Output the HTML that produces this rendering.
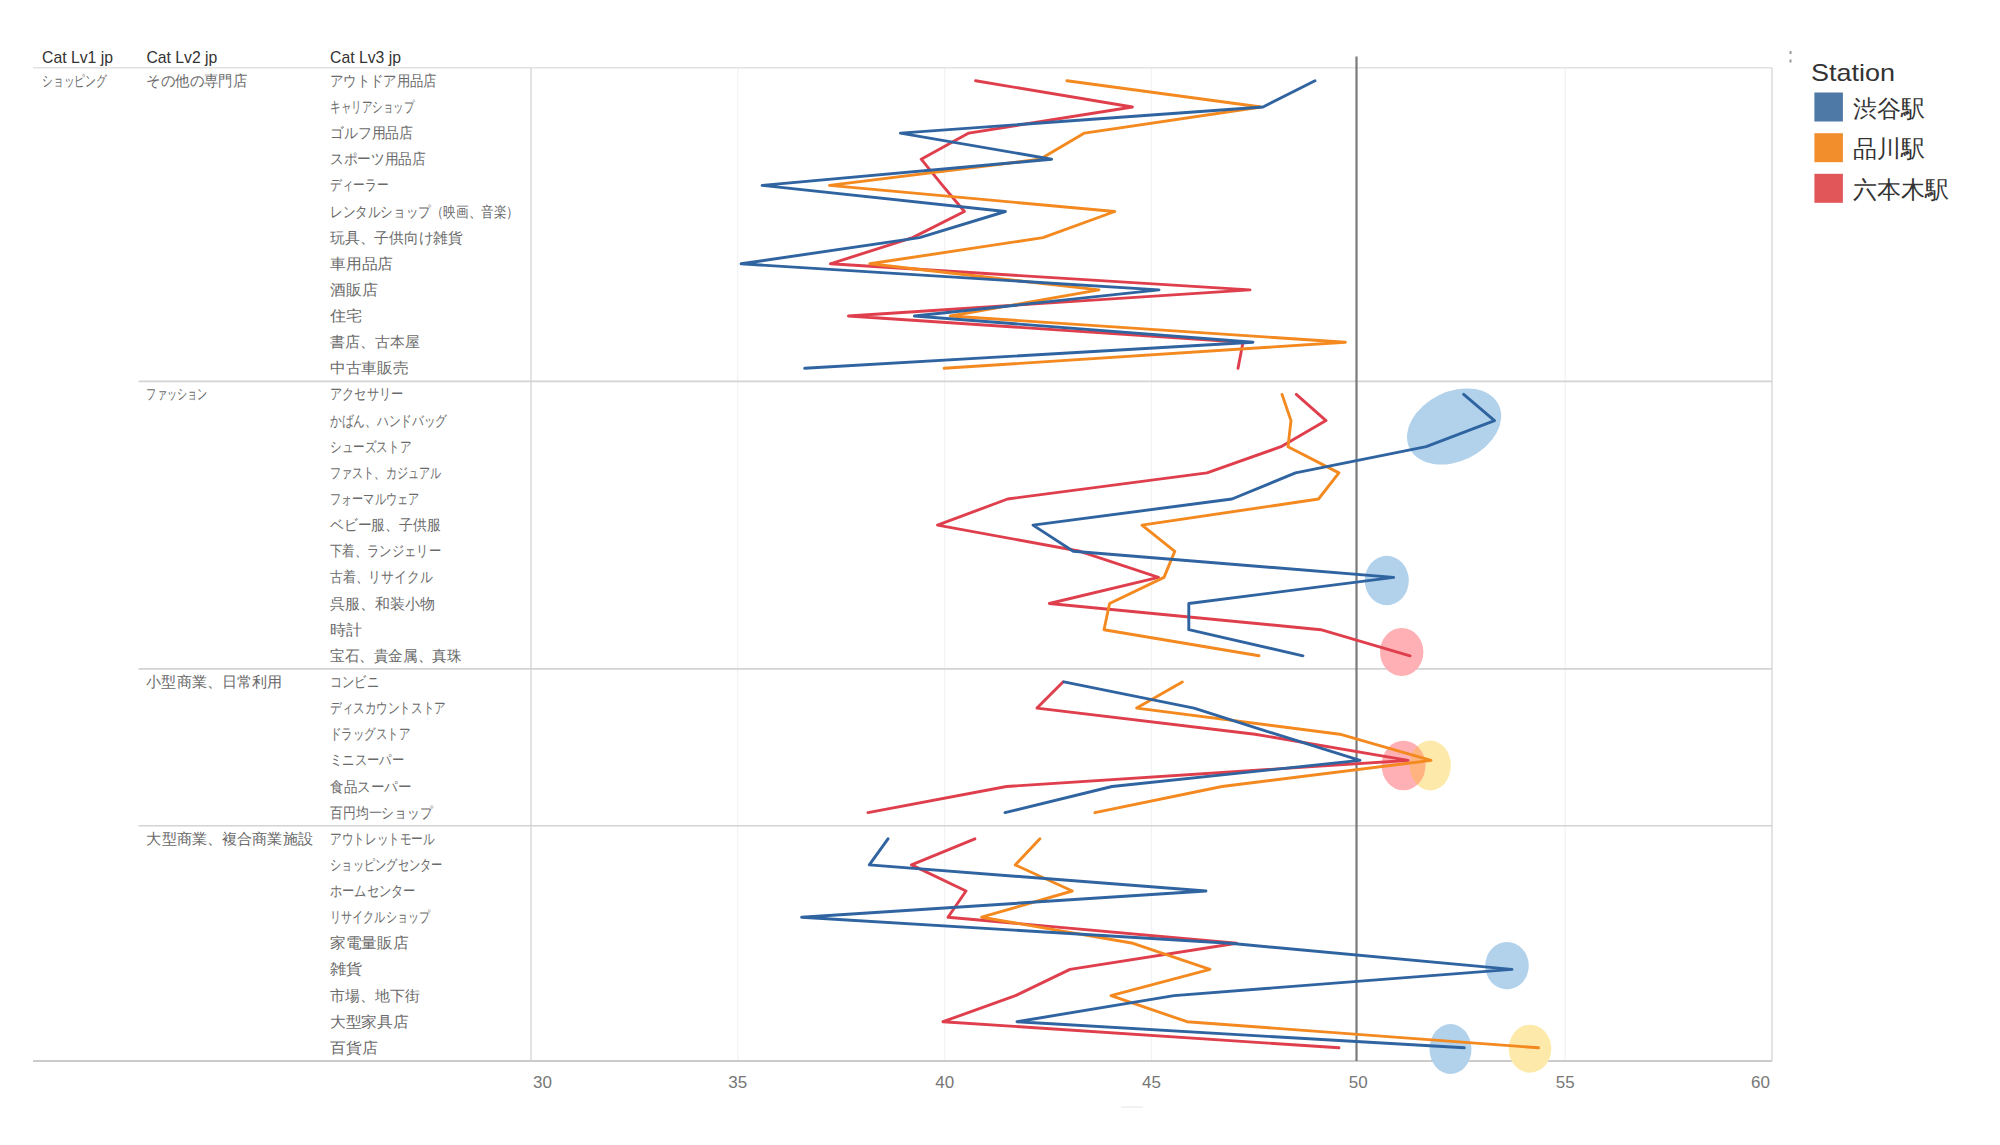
<!DOCTYPE html>
<html><head><meta charset="utf-8"><style>
html,body{margin:0;padding:0;background:#fff;width:2000px;height:1145px;overflow:hidden}
svg{position:absolute;left:0;top:0;font-family:"Liberation Sans",sans-serif}
.hd{font-size:17px;fill:#333}
.lb{font-size:15px;fill:#6a6a6a}
.ax{font-size:17px;fill:#777}
.lt{font-size:24px;fill:#333}
.ll{font-size:24px;fill:#333}
</style></head><body>
<svg width="2000" height="1145" viewBox="0 0 2000 1145">
<line x1="737.8" y1="67.5" x2="737.8" y2="1061" stroke="#f2f2f2" stroke-width="1.2"/>
<line x1="944.7" y1="67.5" x2="944.7" y2="1061" stroke="#f2f2f2" stroke-width="1.2"/>
<line x1="1151.5" y1="67.5" x2="1151.5" y2="1061" stroke="#f2f2f2" stroke-width="1.2"/>
<line x1="1565.2" y1="67.5" x2="1565.2" y2="1061" stroke="#f2f2f2" stroke-width="1.2"/>
<line x1="531" y1="67.75" x2="531" y2="1061" stroke="#dcdcdc" stroke-width="1.6"/>
<line x1="1772" y1="67.75" x2="1772" y2="1061" stroke="#dcdcdc" stroke-width="1.6"/>
<line x1="33" y1="67.75" x2="1772" y2="67.75" stroke="#e2e2e2" stroke-width="1.6"/>
<line x1="138.5" y1="381.4" x2="1772" y2="381.4" stroke="#d3d3d3" stroke-width="1.6"/>
<line x1="138.5" y1="668.9" x2="1772" y2="668.9" stroke="#d3d3d3" stroke-width="1.6"/>
<line x1="138.5" y1="825.7" x2="1772" y2="825.7" stroke="#d3d3d3" stroke-width="1.6"/>
<line x1="33" y1="1060.9" x2="1772" y2="1060.9" stroke="#cbcbcb" stroke-width="2"/>
<ellipse cx="1454.1" cy="426.5" rx="49.6" ry="34.8" transform="rotate(-26 1454.1 426.5)" fill="#b2d2ec"/>
<ellipse cx="1386.8" cy="580.5" rx="22" ry="24.7" fill="#b2d2ec"/>
<ellipse cx="1507" cy="965.7" rx="21.8" ry="23.7" fill="#b2d2ec"/>
<ellipse cx="1450.5" cy="1049" rx="21" ry="25" fill="#b2d2ec"/>
<ellipse cx="1430.3" cy="765.5" rx="20.6" ry="25" fill="#fdeaab"/>
<ellipse cx="1530" cy="1048.7" rx="21.3" ry="24" fill="#fdeaab"/>
<ellipse cx="1401.7" cy="652" rx="21.7" ry="24" fill="#feb0b4"/>
<defs><clipPath id="pk"><ellipse cx="1403.5" cy="765.5" rx="21.9" ry="24.8"/></clipPath></defs>
<ellipse cx="1403.5" cy="765.5" rx="21.9" ry="24.8" fill="#feb0b4"/>
<ellipse cx="1430.3" cy="765.5" rx="20.6" ry="25" fill="#ffb480" clip-path="url(#pk)"/>
<line x1="1356.5" y1="56.5" x2="1356.5" y2="1061" stroke="#7a7a7a" stroke-width="2.2"/>
<polyline points="975.6,80.8 1132.4,107.0 968.8,133.1 921.2,159.2 942.5,185.4 964.4,211.5 912.6,237.6 830.4,263.8 1250.0,289.9 848.4,316.0 1243.0,342.2 1238.0,368.3" fill="none" stroke="#df3f4c" stroke-width="2.9" stroke-linejoin="round" stroke-linecap="round"/>
<polyline points="1296.3,394.4 1326.0,420.6 1281.0,446.7 1207.0,472.9 1007.6,499.0 937.5,525.1 1080.0,551.3 1158.5,577.4 1049.3,603.5 1320.8,629.7 1410.0,655.8" fill="none" stroke="#df3f4c" stroke-width="2.9" stroke-linejoin="round" stroke-linecap="round"/>
<polyline points="1063.0,681.9 1037.0,708.1 1255.0,734.2 1408.0,760.4 1006.5,786.5 868.0,812.6" fill="none" stroke="#df3f4c" stroke-width="2.9" stroke-linejoin="round" stroke-linecap="round"/>
<polyline points="974.9,838.8 911.5,864.9 966.0,891.0 948.0,917.2 1236.6,943.3 1070.0,969.4 1015.5,995.6 943.0,1021.7 1339.0,1047.8" fill="none" stroke="#df3f4c" stroke-width="2.9" stroke-linejoin="round" stroke-linecap="round"/>
<polyline points="1067.0,80.8 1261.0,107.0 1084.5,133.1 1040.0,159.2 829.5,185.4 1114.8,211.5 1043.0,237.6 869.8,263.8 1099.0,289.9 950.3,316.0 1345.4,342.2 944.1,368.3" fill="none" stroke="#f3891f" stroke-width="2.9" stroke-linejoin="round" stroke-linecap="round"/>
<polyline points="1282.0,394.4 1291.0,420.6 1288.0,446.7 1338.9,472.9 1318.5,499.0 1142.0,525.1 1174.8,551.3 1164.0,577.4 1109.6,603.5 1104.0,629.7 1259.0,655.8" fill="none" stroke="#f3891f" stroke-width="2.9" stroke-linejoin="round" stroke-linecap="round"/>
<polyline points="1182.3,681.9 1136.7,708.1 1339.8,734.2 1431.0,760.4 1222.0,786.5 1094.9,812.6" fill="none" stroke="#f3891f" stroke-width="2.9" stroke-linejoin="round" stroke-linecap="round"/>
<polyline points="1039.9,838.8 1015.2,864.9 1072.3,891.0 981.6,917.2 1133.0,943.3 1210.0,969.4 1111.0,995.6 1187.0,1021.7 1538.6,1047.8" fill="none" stroke="#f3891f" stroke-width="2.9" stroke-linejoin="round" stroke-linecap="round"/>
<polyline points="1315.0,80.8 1263.0,107.0 900.4,133.1 1051.6,159.2 762.1,185.4 1005.4,211.5 919.6,237.6 741.1,263.8 1159.0,289.9 914.4,316.0 1253.0,342.2 804.7,368.3" fill="none" stroke="#2f64a1" stroke-width="2.9" stroke-linejoin="round" stroke-linecap="round"/>
<polyline points="1463.7,394.4 1494.5,420.6 1426.2,446.7 1295.5,472.9 1232.0,499.0 1033.0,525.1 1073.2,551.3 1393.7,577.4 1188.8,603.5 1188.8,629.7 1303.0,655.8" fill="none" stroke="#2f64a1" stroke-width="2.9" stroke-linejoin="round" stroke-linecap="round"/>
<polyline points="1063.9,681.9 1194.0,708.1 1276.0,734.2 1360.0,760.4 1112.0,786.5 1005.0,812.6" fill="none" stroke="#2f64a1" stroke-width="2.9" stroke-linejoin="round" stroke-linecap="round"/>
<polyline points="888.0,838.8 869.3,864.9 1206.0,891.0 801.6,917.2 1230.0,943.3 1512.0,969.4 1174.0,995.6 1017.0,1021.7 1464.3,1047.8" fill="none" stroke="#2f64a1" stroke-width="2.9" stroke-linejoin="round" stroke-linecap="round"/>
<text x="42" y="62.6" class="hd" textLength="71" lengthAdjust="spacingAndGlyphs">Cat Lv1 jp</text>
<text x="146.4" y="62.6" class="hd" textLength="71" lengthAdjust="spacingAndGlyphs">Cat Lv2 jp</text>
<text x="330" y="62.6" class="hd" textLength="71" lengthAdjust="spacingAndGlyphs">Cat Lv3 jp</text>
<text x="42" y="85.8" class="lb" textLength="64.7" lengthAdjust="spacingAndGlyphs">ショッピング</text>
<text x="146.4" y="85.8" class="lb" textLength="100.6" lengthAdjust="spacingAndGlyphs">その他の専門店</text>
<text x="146.4" y="399.4" class="lb" textLength="60.9" lengthAdjust="spacingAndGlyphs">ファッション</text>
<text x="146.4" y="686.9" class="lb" textLength="135.7" lengthAdjust="spacingAndGlyphs">小型商業、日常利用</text>
<text x="146.4" y="843.8" class="lb" textLength="166.5" lengthAdjust="spacingAndGlyphs">大型商業、複合商業施設</text>
<text x="330" y="85.8" class="lb" textLength="106.7" lengthAdjust="spacingAndGlyphs">アウトドア用品店</text>
<text x="330" y="112.0" class="lb" textLength="84.5" lengthAdjust="spacingAndGlyphs">キャリアショップ</text>
<text x="330" y="138.1" class="lb" textLength="83.1" lengthAdjust="spacingAndGlyphs">ゴルフ用品店</text>
<text x="330" y="164.2" class="lb" textLength="95.7" lengthAdjust="spacingAndGlyphs">スポーツ用品店</text>
<text x="330" y="190.4" class="lb" textLength="58.3" lengthAdjust="spacingAndGlyphs">ディーラー</text>
<text x="330" y="216.5" class="lb" textLength="188.9" lengthAdjust="spacingAndGlyphs">レンタルショップ（映画、音楽）</text>
<text x="330" y="242.6" class="lb" textLength="132.8" lengthAdjust="spacingAndGlyphs">玩具、子供向け雑貨</text>
<text x="330" y="268.8" class="lb" textLength="63.1" lengthAdjust="spacingAndGlyphs">車用品店</text>
<text x="330" y="294.9" class="lb" textLength="47.7" lengthAdjust="spacingAndGlyphs">酒販店</text>
<text x="330" y="321.0" class="lb" textLength="32.3" lengthAdjust="spacingAndGlyphs">住宅</text>
<text x="330" y="347.2" class="lb" textLength="89.5" lengthAdjust="spacingAndGlyphs">書店、古本屋</text>
<text x="330" y="373.3" class="lb" textLength="78.5" lengthAdjust="spacingAndGlyphs">中古車販売</text>
<text x="330" y="399.4" class="lb" textLength="73.1" lengthAdjust="spacingAndGlyphs">アクセサリー</text>
<text x="330" y="425.6" class="lb" textLength="117.0" lengthAdjust="spacingAndGlyphs">かばん、ハンドバッグ</text>
<text x="330" y="451.7" class="lb" textLength="81.1" lengthAdjust="spacingAndGlyphs">シューズストア</text>
<text x="330" y="477.9" class="lb" textLength="111.1" lengthAdjust="spacingAndGlyphs">ファスト、カジュアル</text>
<text x="330" y="504.0" class="lb" textLength="89.1" lengthAdjust="spacingAndGlyphs">フォーマルウェア</text>
<text x="330" y="530.1" class="lb" textLength="110.3" lengthAdjust="spacingAndGlyphs">ベビー服、子供服</text>
<text x="330" y="556.3" class="lb" textLength="111.1" lengthAdjust="spacingAndGlyphs">下着、ランジェリー</text>
<text x="330" y="582.4" class="lb" textLength="102.3" lengthAdjust="spacingAndGlyphs">古着、リサイクル</text>
<text x="330" y="608.5" class="lb" textLength="104.9" lengthAdjust="spacingAndGlyphs">呉服、和装小物</text>
<text x="330" y="634.7" class="lb" textLength="32.3" lengthAdjust="spacingAndGlyphs">時計</text>
<text x="330" y="660.8" class="lb" textLength="131.3" lengthAdjust="spacingAndGlyphs">宝石、貴金属、真珠</text>
<text x="330" y="686.9" class="lb" textLength="48.7" lengthAdjust="spacingAndGlyphs">コンビニ</text>
<text x="330" y="713.1" class="lb" textLength="115.7" lengthAdjust="spacingAndGlyphs">ディスカウントストア</text>
<text x="330" y="739.2" class="lb" textLength="80.3" lengthAdjust="spacingAndGlyphs">ドラッグストア</text>
<text x="330" y="765.4" class="lb" textLength="73.9" lengthAdjust="spacingAndGlyphs">ミニスーパー</text>
<text x="330" y="791.5" class="lb" textLength="81.1" lengthAdjust="spacingAndGlyphs">食品スーパー</text>
<text x="330" y="817.6" class="lb" textLength="102.7" lengthAdjust="spacingAndGlyphs">百円均一ショップ</text>
<text x="330" y="843.8" class="lb" textLength="104.7" lengthAdjust="spacingAndGlyphs">アウトレットモール</text>
<text x="330" y="869.9" class="lb" textLength="112.7" lengthAdjust="spacingAndGlyphs">ショッピングセンター</text>
<text x="330" y="896.0" class="lb" textLength="85.7" lengthAdjust="spacingAndGlyphs">ホームセンター</text>
<text x="330" y="922.2" class="lb" textLength="100.1" lengthAdjust="spacingAndGlyphs">リサイクルショップ</text>
<text x="330" y="948.3" class="lb" textLength="78.5" lengthAdjust="spacingAndGlyphs">家電量販店</text>
<text x="330" y="974.4" class="lb" textLength="32.3" lengthAdjust="spacingAndGlyphs">雑貨</text>
<text x="330" y="1000.6" class="lb" textLength="89.5" lengthAdjust="spacingAndGlyphs">市場、地下街</text>
<text x="330" y="1026.7" class="lb" textLength="78.5" lengthAdjust="spacingAndGlyphs">大型家具店</text>
<text x="330" y="1052.8" class="lb" textLength="47.7" lengthAdjust="spacingAndGlyphs">百貨店</text>
<text x="533.0" y="1087.7" class="ax" text-anchor="start">30</text>
<text x="737.8" y="1087.7" class="ax" text-anchor="middle">35</text>
<text x="944.7" y="1087.7" class="ax" text-anchor="middle">40</text>
<text x="1151.5" y="1087.7" class="ax" text-anchor="middle">45</text>
<text x="1358.3" y="1087.7" class="ax" text-anchor="middle">50</text>
<text x="1565.2" y="1087.7" class="ax" text-anchor="middle">55</text>
<text x="1770.0" y="1087.7" class="ax" text-anchor="end">60</text>
<text x="1811" y="81" class="lt" textLength="84" lengthAdjust="spacingAndGlyphs">Station</text>
<rect x="1814.4" y="92.5" width="28.5" height="29" fill="#4e79a7"/>
<text x="1853" y="116.5" class="ll">渋谷駅</text>
<rect x="1814.4" y="133.2" width="28.5" height="29" fill="#f28e2b"/>
<text x="1853" y="157.2" class="ll">品川駅</text>
<rect x="1814.4" y="173.8" width="28.5" height="29" fill="#e15759"/>
<text x="1853" y="197.8" class="ll">六本木駅</text>
<rect x="1789.5" y="51" width="2" height="3" fill="#999"/><rect x="1789.5" y="59.5" width="2" height="3" fill="#999"/>
<line x1="1121" y1="1107" x2="1143" y2="1107" stroke="#eeeeee" stroke-width="1.5"/>
</svg>
</body></html>
